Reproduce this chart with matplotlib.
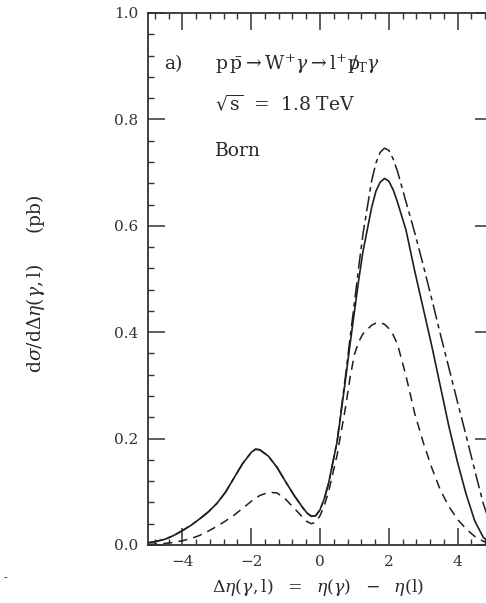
import matplotlib
matplotlib.use("Agg")
import matplotlib.pyplot as plt
from matplotlib.ticker import MultipleLocator

plt.rcParams['font.family'] = ['DejaVu Serif']
plt.rcParams['mathtext.fontset'] = 'dejavuserif'

# --- data ---
eta = [-5.0, -4.75, -4.5, -4.25, -4.0, -3.75, -3.5, -3.25, -3.0, -2.75,
       -2.5, -2.25, -2.0, -1.875, -1.75, -1.5, -1.25, -1.0, -0.75, -0.5,
       -0.375, -0.25, -0.125, 0.0, 0.125, 0.25, 0.5, 0.75, 0.875, 1.0,
       1.125, 1.25, 1.5, 1.625, 1.75, 1.875, 2.0, 2.125, 2.25, 2.5,
       2.75, 3.0, 3.25, 3.5, 3.75, 4.0, 4.25, 4.5, 4.75, 5.0]

solid = [0.004, 0.007, 0.011, 0.018, 0.027, 0.037, 0.049, 0.062, 0.078, 0.099,
         0.126, 0.153, 0.174, 0.180, 0.179, 0.167, 0.146, 0.119, 0.093, 0.070,
         0.060, 0.054, 0.055, 0.066, 0.087, 0.116, 0.195, 0.315, 0.378, 0.438,
         0.498, 0.552, 0.634, 0.665, 0.682, 0.689, 0.684, 0.668, 0.645, 0.592,
         0.516, 0.445, 0.374, 0.298, 0.222, 0.155, 0.095, 0.045, 0.014, 0.003]

dashdot = [0.004, 0.007, 0.011, 0.018, 0.027, 0.037, 0.049, 0.062, 0.078, 0.099,
           0.126, 0.153, 0.174, 0.180, 0.179, 0.167, 0.146, 0.119, 0.093, 0.070,
           0.060, 0.054, 0.055, 0.066, 0.087, 0.116, 0.196, 0.322, 0.390, 0.455,
           0.522, 0.585, 0.684, 0.718, 0.738, 0.746, 0.742, 0.726, 0.703, 0.645,
           0.588, 0.526, 0.462, 0.396, 0.332, 0.268, 0.205, 0.140, 0.077, 0.030]

dashed = [0.001, 0.002, 0.003, 0.005, 0.008, 0.012, 0.018, 0.026, 0.035, 0.045,
          0.056, 0.069, 0.082, 0.088, 0.093, 0.099, 0.098, 0.086, 0.069, 0.052,
          0.044, 0.040, 0.043, 0.055, 0.074, 0.100, 0.170, 0.262, 0.315, 0.358,
          0.382, 0.397, 0.413, 0.417, 0.418, 0.415, 0.407, 0.395, 0.378, 0.318,
          0.248, 0.193, 0.145, 0.103, 0.072, 0.048, 0.030, 0.016, 0.007, 0.002]

xticks = [-4, -2, 0, 2, 4]
xticklabels = ['\u22124', '\u22122', '0', '2', '4']
yticks = [0.0, 0.2, 0.4, 0.6, 0.8, 1.0]
yticklabels = ['0.0', '0.2', '0.4', '0.6', '0.8', '1.0']

W, H = 486, 603
fig = plt.figure(figsize=(W / 100, H / 100), dpi=100)
left, right, top, bottom = 148, 492, 13, 545
ax = fig.add_axes([left / W, 1 - bottom / H, (right - left) / W, (bottom - top) / H])

col = '#1e1e1e'
ax.plot(eta, solid, color=col, lw=1.2, solid_joinstyle='round')
ax.plot(eta, dashdot, color=col, lw=1.1, linestyle=(0, (10, 3, 3, 3)))
ax.plot(eta, dashed, color=col, lw=1.1, linestyle=(0, (6, 4)))

ax.set_xlim(-5, 5)
ax.set_ylim(0, 1.0)
ax.set_xticks(xticks)
ax.set_xticklabels(xticklabels)
ax.set_yticks(yticks)
ax.set_yticklabels(yticklabels)
ax.xaxis.set_minor_locator(MultipleLocator(0.4))
ax.yaxis.set_minor_locator(MultipleLocator(0.04))
ax.tick_params(which='both', direction='in', top=True, right=True, color='#333')
ax.tick_params(which='major', length=12, width=1.1, labelsize=11, labelcolor='#333', pad=7)
ax.tick_params(which='minor', length=4, width=1.0)
for s in ax.spines.values():
    s.set_linewidth(1.3)
    s.set_color('#333')

tc = '#2a2a2a'
ax.text(-4.52, 0.904, 'a)', fontsize=13.5, color=tc, va='center')
ax.text(-3.05, 0.904,
        r'$\mathrm{p}\,\bar{\mathrm{p}}\rightarrow\mathrm{W}^{+}\gamma\rightarrow\mathrm{l}^{+}\mathrm{p}\!\!\!/_{\mathrm{T}}\gamma$',
        fontsize=13.5, color=tc, va='center')
ax.text(-3.05, 0.829, r'$\sqrt{\mathrm{s}}$  =  1.8 TeV', fontsize=13.5, color=tc, va='center')
ax.text(-3.05, 0.741, 'Born', fontsize=13.5, color=tc, va='center')

fig.text(318 / W, 1 - 588 / H,
         r'$\Delta\eta(\gamma,\mathrm{l})\ \ =\ \ \eta(\gamma)\ \ -\ \ \eta(\mathrm{l})$',
         ha='center', va='center', fontsize=12.5, color=tc)
fig.text(36 / W, 1 - 284 / H,
         r'$\mathrm{d}\sigma/\mathrm{d}\Delta\eta(\gamma,\mathrm{l})$     (pb)',
         rotation=90, ha='center', va='center', fontsize=13.5, color=tc)
fig.text(5 / W, 1 - 578 / H, '-', fontsize=8, color='#333', ha='center', va='center')

fig.savefig('out.png', dpi=100)
